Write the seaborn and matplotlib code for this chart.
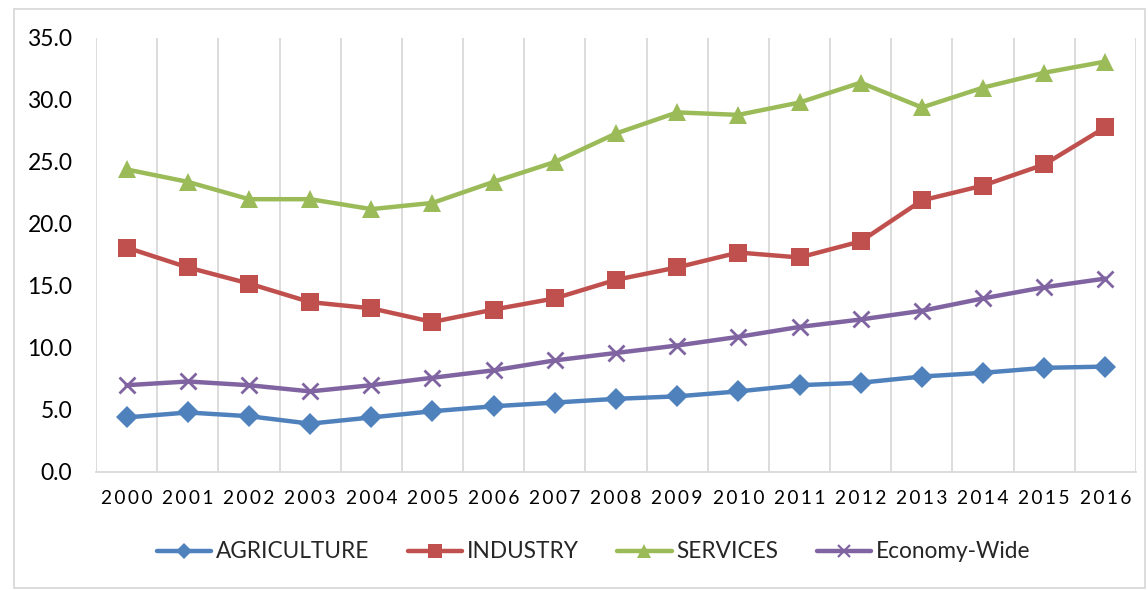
import numpy as np
import pandas as pd
import matplotlib
matplotlib.use("Agg")
import matplotlib.pyplot as plt
from matplotlib.lines import Line2D
from matplotlib.patches import Rectangle
import seaborn as sns

years = list(range(2000, 2017))
agriculture = [4.4, 4.8, 4.5, 3.9, 4.4, 4.9, 5.3, 5.6, 5.9, 6.1, 6.5, 7.0, 7.2, 7.7, 8.0, 8.4, 8.5]
industry = [18.1, 16.5, 15.2, 13.7, 13.2, 12.1, 13.1, 14.0, 15.5, 16.5, 17.7, 17.3, 18.6, 21.9, 23.1, 24.8, 27.8]
services = [24.4, 23.4, 22.0, 22.0, 21.2, 21.7, 23.4, 25.0, 27.3, 29.0, 28.8, 29.8, 31.4, 29.4, 31.0, 32.2, 33.1]
economy_wide = [7.0, 7.3, 7.0, 6.5, 7.0, 7.6, 8.2, 9.0, 9.6, 10.2, 10.9, 11.7, 12.3, 13.0, 14.0, 14.9, 15.6]
series_names = ["AGRICULTURE", "INDUSTRY", "SERVICES", "Economy-Wide"]
y_ticks = [0, 5, 10, 15, 20, 25, 30, 35]

sns.set_theme(style="white")
plt.rcParams["font.family"] = ["Lato", "DejaVu Sans"]

frames = []
for name, vals in zip(series_names, [agriculture, industry, services, economy_wide]):
    frames.append(pd.DataFrame({"year": years, "value": vals, "series": name}))
df = pd.concat(frames, ignore_index=True)

palette = {"AGRICULTURE": "#4F81BD", "INDUSTRY": "#C0504D",
           "SERVICES": "#9BBB59", "Economy-Wide": "#8064A2"}
markers = {"AGRICULTURE": "D", "INDUSTRY": "s", "SERVICES": "^", "Economy-Wide": "x"}
msizes = {"AGRICULTURE": 11, "INDUSTRY": 13, "SERVICES": 13, "Economy-Wide": 12}
leg_msizes = {"AGRICULTURE": 8, "INDUSTRY": 10, "SERVICES": 10, "Economy-Wide": 9}
medge = {"AGRICULTURE": 0, "INDUSTRY": 0, "SERVICES": 0, "Economy-Wide": 2.0}

fig = plt.figure(figsize=(11.48, 5.9), dpi=100)
ax = fig.add_axes([96 / 1148, 1 - 472 / 590, (1136 - 96) / 1148, (472 - 38) / 590])

# one lineplot call per series so filled and line-art markers can coexist
for name in series_names:
    sub = df[df["series"] == name]
    sns.lineplot(data=sub, x="year", y="value", color=palette[name],
                 marker=markers[name], markersize=msizes[name],
                 markeredgewidth=medge[name], markeredgecolor=palette[name],
                 linewidth=3.2, ax=ax, legend=False)

ax.set_xlim(1999.5, 2016.5)
ax.set_ylim(0, 35)
ax.set_yticks(y_ticks)
ax.set_yticklabels([f"{v:.1f}" for v in y_ticks], fontsize=16.5, color="#000000")
ax.set_xticks(years)
ax.set_xticklabels(["\u2009".join(str(y)) for y in years], fontsize=13.8, color="#000000")
ax.set_xticks(np.arange(1999.5, 2017.0, 1.0), minor=True)
ax.tick_params(axis="x", which="major", length=0, pad=13)
ax.tick_params(axis="y", which="major", length=0, pad=17)
ax.tick_params(axis="x", which="minor", length=0)
ax.grid(False)
ax.grid(True, axis="x", which="minor", color="#D9D9D9", linewidth=1.3)
for s in ["top", "right", "left"]:
    ax.spines[s].set_visible(False)
ax.spines["bottom"].set_color("#D9D9D9")
ax.spines["bottom"].set_linewidth(1.3)
ax.set_xlabel("")
ax.set_ylabel("")

handles = [Line2D([], [], color=palette[n], marker=markers[n], linewidth=3.2,
                  markersize=leg_msizes[n], markeredgewidth=1.6 if n == "Economy-Wide" else 0,
                  markeredgecolor=palette[n]) for n in series_names]
fig.legend(handles, series_names, loc="center", bbox_to_anchor=(0.517, 1 - 552 / 590),
           ncol=4, frameon=False, fontsize=16.3, handlelength=2.4, columnspacing=1.7,
           handletextpad=0.2)

fig.patches.append(Rectangle((14 / 1148, 2 / 590), 1131 / 1148, 579 / 590,
                             transform=fig.transFigure, fill=False,
                             edgecolor="#D9D9D9", linewidth=1.3))

fig.savefig("out.png", dpi=100)
